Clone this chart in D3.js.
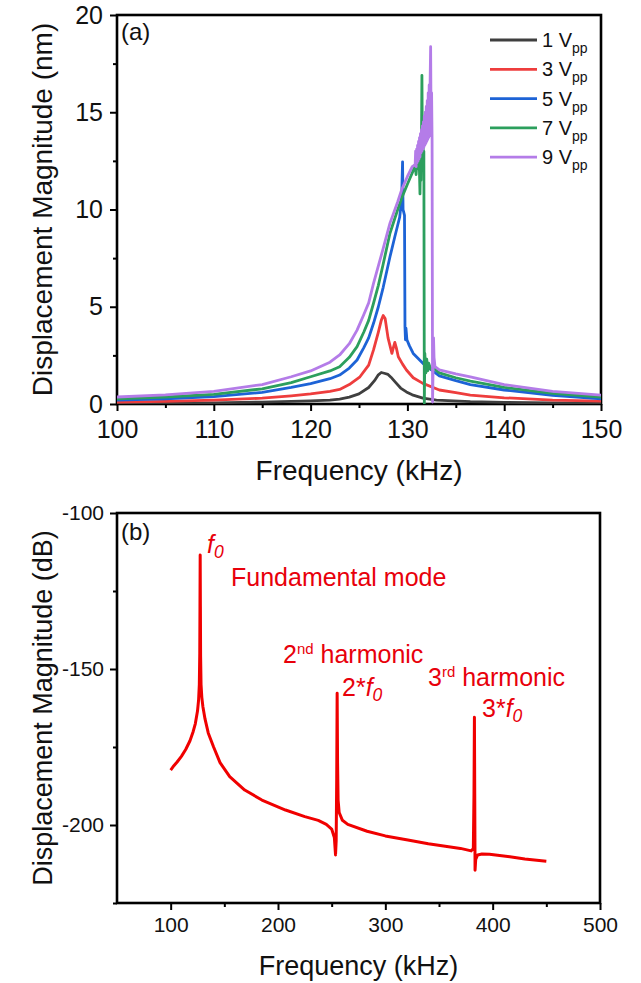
<!DOCTYPE html>
<html>
<head>
<meta charset="utf-8">
<script src="https://cdn.jsdelivr.net/npm/d3@7"></script>
<style>
  body { margin: 0; background: #fff; }
  svg { display: block; font-family: "Liberation Sans", Arial, sans-serif; }
</style>
</head>
<body>
<div id="chart"></div>
<script>
// ---- panel (a): displacement vs frequency for several drive voltages ----
const topXTicks = [100, 110, 120, 130, 140, 150];
const topXMinor = [105, 115, 125, 135, 145];
const topYTicks = [0, 5, 10, 15, 20];
const topYMinor = [2.5, 7.5, 12.5, 17.5];

const driveLabels = ["1", "3", "5", "7", "9"];
const driveColors = ["#3f3f3f", "#ee3d3d", "#1d63d6", "#2c9f5d", "#b47ce8"];

const series1Vpp = [
  [100, 0.03], [105, 0.04], [110, 0.06], [115, 0.1], [118, 0.13], [120, 0.16], [122, 0.2],
  [123, 0.25], [124, 0.35], [125, 0.52], [126, 0.85], [126.6, 1.2], [127, 1.5], [127.3, 1.62],
  [127.6, 1.58], [128, 1.52], [128.3, 1.38], [128.8, 1.1], [129.3, 0.82], [129.9, 0.62],
  [130.5, 0.47], [131.6, 0.3], [133, 0.2], [136.5, 0.12], [140, 0.08], [145, 0.06], [150, 0.05]
];
const series3Vpp = [
  [100, 0.1], [105, 0.14], [110, 0.2], [115, 0.3], [118, 0.42], [120, 0.52], [122, 0.65],
  [123, 0.75], [124, 1.0], [125.1, 1.4], [126, 2.0], [126.5, 2.78], [127, 3.7], [127.3, 4.3],
  [127.5, 4.55], [127.7, 4.4], [128, 3.4], [128.4, 2.6], [128.55, 2.9], [128.7, 3.17],
  [128.85, 2.9], [129.06, 2.43], [129.5, 2.05], [129.9, 1.75], [130.6, 1.35], [131.6, 1.06],
  [133.3, 0.72], [135, 0.58], [136.5, 0.46], [140, 0.32], [145, 0.2], [150, 0.15]
];
const series5Vpp = [
  [100, 0.2], [105, 0.27], [110, 0.38], [115, 0.6], [118, 0.85], [120, 1.05], [122, 1.3],
  [123, 1.49], [124, 1.85], [124.8, 2.26], [125.5, 2.9], [126, 3.4], [126.5, 4.15], [127, 5.0],
  [127.5, 6.0], [128.2, 7.57], [128.7, 8.6], [129.2, 9.6], [129.4, 10.5], [129.5, 12.45],
  [129.55, 10.0], [129.6, 9.9], [129.7, 9.7], [129.75, 3.97], [129.8, 3.3], [129.85, 3.9],
  [129.95, 3.3], [130.2, 3.0], [130.6, 2.6], [131.6, 2.09], [133.3, 1.45], [135, 1.2],
  [136.5, 1.0], [140, 0.72], [145, 0.45], [150, 0.26]
];
const series7Vpp = [
  [100, 0.27], [105, 0.36], [110, 0.5], [115, 0.78], [118, 1.1], [120, 1.4], [122, 1.7],
  [123, 1.92], [124, 2.4], [124.8, 2.95], [125.5, 3.7], [126, 4.3], [126.5, 5.18], [127, 6.1],
  [127.5, 7.2], [128.2, 8.78], [129, 10.0], [129.5, 10.7], [130, 11.3], [130.6, 12.0],
  [130.8, 12.3], [130.9, 11.8], [131, 12.6], [131.1, 12.1], [131.2, 12.9], [131.3, 10.8],
  [131.35, 12.8], [131.4, 11.5], [131.45, 13.2], [131.5, 16.9], [131.55, 13.0], [131.6, 14.0],
  [131.65, 12.6], [131.7, 13.0], [131.75, 0.05], [131.8, 2.6], [131.9, 1.6], [132, 2.3],
  [132.1, 1.7], [132.2, 2.1], [132.4, 1.8], [132.7, 1.85], [133.3, 1.6], [135, 1.35],
  [136.5, 1.18], [140, 0.85], [145, 0.55], [150, 0.36]
];
const series9Vpp = [
  [100, 0.36], [105, 0.47], [110, 0.65], [115, 1.0], [118, 1.4], [120, 1.7], [122, 2.15],
  [123, 2.52], [124, 3.1], [124.8, 3.8], [125.5, 4.6], [126, 5.2], [126.5, 6.2], [127, 7.1],
  [127.5, 8.0], [128.2, 9.3], [129, 10.4], [129.4, 11.0], [130, 11.7], [130.5, 12.2],
  [130.8, 12.3], [130.85, 13.0], [130.9, 12.2], [130.95, 13.1], [131, 12.4], [131.05, 13.3],
  [131.1, 12.5], [131.15, 13.5], [131.2, 12.6], [131.25, 13.7], [131.3, 12.7], [131.35, 13.9],
  [131.4, 12.9], [131.45, 14.1], [131.5, 13.0], [131.55, 14.3], [131.6, 13.1], [131.65, 14.5],
  [131.7, 13.2], [131.75, 14.8], [131.8, 13.3], [131.85, 15.0], [131.9, 13.4], [131.95, 15.3],
  [132, 13.5], [132.05, 15.6], [132.1, 13.6], [132.15, 16.0], [132.2, 13.7], [132.25, 16.4],
  [132.3, 13.8], [132.35, 16.7], [132.4, 18.37], [132.45, 14.0], [132.5, 16.0], [132.55, 13.5],
  [132.6, 0.1], [132.7, 3.4], [132.75, 2.4], [132.85, 1.92], [133.3, 1.75], [135, 1.55],
  [136.5, 1.4], [140, 1.0], [145, 0.65], [150, 0.46]
];
const driveSeries = [series1Vpp, series3Vpp, series5Vpp, series7Vpp, series9Vpp];

// ---- panel (b): spectrum in dB showing the harmonics ----
const bottomXTicks = [100, 200, 300, 400, 500];
const bottomXMinor = [150, 250, 350, 450];
const bottomYTicks = [-100, -150, -200];
const bottomYMinor = [-125, -175, -225];

const spectrumDb = [
  [100, -182.4], [103, -181], [106, -179.8], [110, -178], [114, -175.8], [118, -173], [121, -170],
  [123, -167.5], [125, -163.5], [126, -160], [126.7, -155], [127.1, -145], [127.3, -130],
  [127.5, -113.5], [127.7, -130], [127.9, -146], [128.3, -155], [129, -159], [130, -162],
  [132, -166], [135, -170.5], [140, -175], [146, -180], [155, -184.5], [169, -188.8],
  [185, -192], [207, -195.2], [225, -197.3], [237.5, -198.5], [245, -199.8], [250, -201.3],
  [252.5, -204], [253.6, -209.6], [254.2, -205], [254.7, -185], [255.1, -157.8], [255.5, -180],
  [256, -192], [257, -196], [260, -198.5], [265, -199.8], [283, -202], [300, -203.5],
  [321, -204.8], [340, -206], [359, -207], [370, -207.5], [380, -208.3], [382, -207.5],
  [382.6, -190], [383, -165.5], [383.3, -190], [383.6, -214.5], [384.2, -211], [386, -209.6],
  [390, -209.3], [397, -209.4], [416, -210.2], [430, -210.9], [450, -211.6]
];

const width = 641;
const height = 983;
const font = "'Liberation Sans', Arial, sans-serif";

const svg = d3.select("#chart").append("svg")
  .attr("width", width).attr("height", height)
  .attr("viewBox", `0 0 ${width} ${height}`);

function drawFrame(g, x, y, opt) {
  const [xl, xr] = x.range();
  const [yb, yt] = y.range();

  const styleAxis = (sel, size) => {
    sel.select(".domain").remove();
    sel.selectAll(".tick line").attr("stroke", "#000").attr("stroke-width", 2);
    sel.selectAll("text").attr("fill", "#111").attr("font-size", size).attr("font-family", font);
  };
  const plain = (d) => String(d); // keep an ASCII hyphen for negatives

  g.append("g").attr("transform", `translate(0,${yb})`)
    .call(d3.axisBottom(x).tickValues(opt.xTicks).tickSize(7).tickPadding(opt.xPad).tickFormat(plain))
    .call((s) => styleAxis(s, opt.tickFont));
  g.append("g").attr("transform", `translate(0,${yb})`)
    .call(d3.axisBottom(x).tickValues(opt.xMinor).tickSize(4).tickFormat(""))
    .call((s) => styleAxis(s, opt.tickFont));
  g.append("g").attr("transform", `translate(${xl},0)`)
    .call(d3.axisLeft(y).tickValues(opt.yTicks).tickSize(7).tickPadding(opt.yPad).tickFormat(plain))
    .call((s) => styleAxis(s, opt.tickFont));
  g.append("g").attr("transform", `translate(${xl},0)`)
    .call(d3.axisLeft(y).tickValues(opt.yMinor).tickSize(4).tickFormat(""))
    .call((s) => styleAxis(s, opt.tickFont));

  g.append("rect")
    .attr("x", xl).attr("y", yt)
    .attr("width", xr - xl).attr("height", yb - yt)
    .attr("fill", "none").attr("stroke", "#000").attr("stroke-width", 2.6);

  g.append("text")
    .attr("x", (xl + xr) / 2).attr("y", opt.xTitleY)
    .attr("text-anchor", "middle").attr("font-size", opt.titleFont).attr("fill", "#111")
    .text("Frequency (kHz)");

  g.append("text")
    .attr("transform", `translate(${opt.yTitleX},${(yb + yt) / 2}) rotate(-90)`)
    .attr("text-anchor", "middle").attr("font-size", opt.titleFont).attr("fill", "#111")
    .text(opt.yTitle);

  g.append("text")
    .attr("x", xl + 4).attr("y", opt.tagY)
    .attr("font-size", 24).attr("fill", "#111")
    .text(opt.tag);

  const clipId = `clip-${opt.tag.replace(/\W/g, "")}`;
  g.append("clipPath").attr("id", clipId)
    .append("rect").attr("x", xl).attr("y", yt).attr("width", xr - xl).attr("height", yb - yt);
  return g.append("g").attr("clip-path", `url(#${clipId})`);
}

// panel (a)
const xTop = d3.scaleLinear().domain([100, 150]).range([117, 601]);
const yTop = d3.scaleLinear().domain([0, 20]).range([404, 15]);
const gTop = svg.append("g");
const plotTop = drawFrame(gTop, xTop, yTop, {
  xTicks: topXTicks, xMinor: topXMinor, yTicks: topYTicks, yMinor: topYMinor,
  xPad: 9, yPad: 7, tickFont: 25, titleFont: 28,
  xTitleY: 480, yTitleX: 52, yTitle: "Displacement Magnitude (nm)",
  tag: "(a)", tagY: 40
});

const lineTop = d3.line().x((d) => xTop(d[0])).y((d) => yTop(d[1]));
driveSeries.forEach((data, i) => {
  plotTop.append("path")
    .datum(data)
    .attr("d", lineTop)
    .attr("fill", "none")
    .attr("stroke", driveColors[i])
    .attr("stroke-width", 2.8)
    .attr("stroke-linejoin", "round");
});

const legend = gTop.append("g");
driveLabels.forEach((label, i) => {
  const ly = 40 + i * 29.3;
  legend.append("line")
    .attr("x1", 490).attr("x2", 537).attr("y1", ly).attr("y2", ly)
    .attr("stroke", driveColors[i]).attr("stroke-width", 2.8);
  const t = legend.append("text")
    .attr("x", 542).attr("y", ly + 7)
    .attr("font-size", 20).attr("fill", "#111");
  t.append("tspan").text(`${label} V`);
  t.append("tspan").attr("font-size", 14).attr("dy", 6).text("pp");
});

// panel (b)
const xBot = d3.scaleLinear().domain([50, 500]).range([117, 600]);
const yBot = d3.scaleLinear().domain([-225, -100]).range([903, 513]);
const gBot = svg.append("g");
const plotBot = drawFrame(gBot, xBot, yBot, {
  xTicks: bottomXTicks, xMinor: bottomXMinor, yTicks: bottomYTicks, yMinor: bottomYMinor,
  xPad: 7, yPad: 6, tickFont: 21, titleFont: 27,
  xTitleY: 975, yTitleX: 52, yTitle: "Displacement Magnitude (dB)",
  tag: "(b)", tagY: 540
});

plotBot.append("path")
  .datum(spectrumDb)
  .attr("d", d3.line().x((d) => xBot(d[0])).y((d) => yBot(d[1])))
  .attr("fill", "none")
  .attr("stroke", "#f00000")
  .attr("stroke-width", 3)
  .attr("stroke-linejoin", "round");

const red = "#e8000b";
function fSub(sel) {
  sel.append("tspan").attr("font-style", "italic").text("f");
  sel.append("tspan").attr("font-style", "italic").attr("font-size", "0.7em").attr("dy", 5).text("0");
}

const ann = gBot.append("g").attr("fill", red).attr("font-size", 25);
ann.append("text").attr("x", 207).attr("y", 553).call(fSub);
ann.append("text").attr("x", 231).attr("y", 586).text("Fundamental mode");

const h2 = ann.append("text").attr("x", 283).attr("y", 663);
h2.append("tspan").text("2");
h2.append("tspan").attr("font-size", 15).attr("dy", -9).text("nd");
h2.append("tspan").attr("dy", 9).text(" harmonic");
const h2f = ann.append("text").attr("x", 342).attr("y", 696);
h2f.append("tspan").text("2*");
fSub(h2f);

const h3 = ann.append("text").attr("x", 428).attr("y", 686);
h3.append("tspan").text("3");
h3.append("tspan").attr("font-size", 15).attr("dy", -9).text("rd");
h3.append("tspan").attr("dy", 9).text(" harmonic");
const h3f = ann.append("text").attr("x", 482).attr("y", 717);
h3f.append("tspan").text("3*");
fSub(h3f);
</script>
</body>
</html>
